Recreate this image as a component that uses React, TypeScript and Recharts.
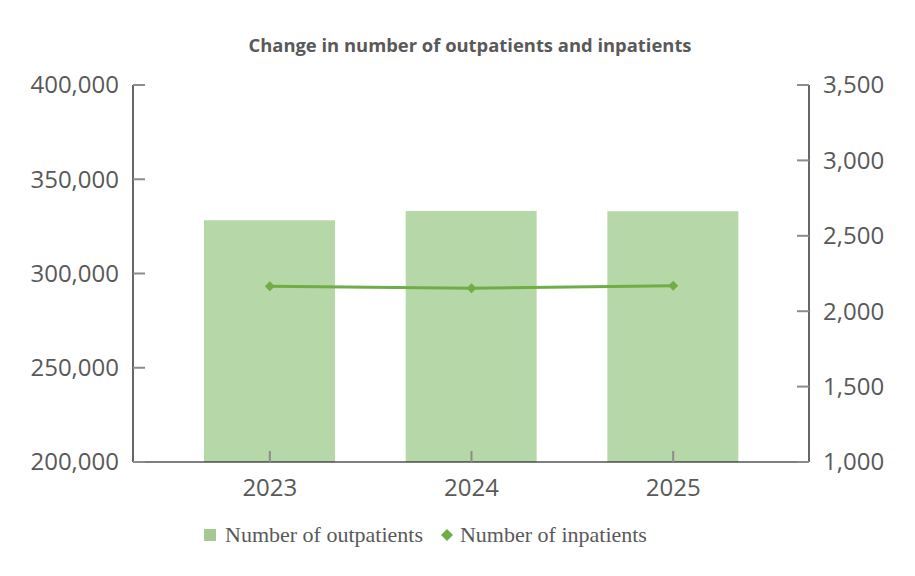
import React from 'react';
import { ComposedChart, Bar, Line, XAxis, YAxis, Legend } from 'recharts';

const years = ['2023', '2024', '2025'];
const outpatients = [328300, 333100, 333000];
const inpatients = [2165, 2152, 2169];
const leftTicks = [200000, 250000, 300000, 350000, 400000];
const rightTicks = [1000, 1500, 2000, 2500, 3000, 3500];

const title = 'Change in number of outpatients and inpatients';
const outName = 'Number of outpatients';
const inName = 'Number of inpatients';

const data = years.map((y, i) => ({ year: y, outpatients: outpatients[i], inpatients: inpatients[i] }));

const BAR = '#b6d7a8';
const LINE = '#70ad47';
const TEXT = '#595959';
const TICKC = '#8c8c8c';
const AXISFONT = '"Open Sans", "Noto Sans", sans-serif';

const fmt = (v: number) => v.toLocaleString('en-US');

const LeftTick = (props: any) => {
  const { x, y, payload } = props;
  return (
    <g>
      <line x1={x + 14} x2={x + 26} y1={y} y2={y} stroke={TICKC} strokeWidth={2} />
      <text x={x} y={y} dy="0.35em" textAnchor="end" fill={TEXT} fontSize={24} fontFamily={AXISFONT}>
        {fmt(payload.value)}
      </text>
    </g>
  );
};

const RightTick = (props: any) => {
  const { x, y, payload } = props;
  return (
    <g>
      <line x1={x - 26} x2={x - 14} y1={y} y2={y} stroke={TICKC} strokeWidth={2} />
      <text x={x} y={y} dy="0.35em" textAnchor="start" fill={TEXT} fontSize={24} fontFamily={AXISFONT}>
        {fmt(payload.value)}
      </text>
    </g>
  );
};

const BottomTick = (props: any) => {
  const { x, y, payload } = props;
  return (
    <g>
      <line x1={x} x2={x} y1={y - 17} y2={y - 28} stroke={TICKC} strokeWidth={2} />
      <text x={x} y={y} dy="0.71em" textAnchor="middle" fill={TEXT} fontSize={24} fontFamily={AXISFONT}>
        {payload.value}
      </text>
    </g>
  );
};

const Diamond = (props: any) => {
  const { cx, cy } = props;
  if (cx == null || cy == null) return null;
  const r = 5;
  return <polygon points={`${cx},${cy - r} ${cx + r},${cy} ${cx},${cy + r} ${cx - r},${cy}`} fill={LINE} />;
};

const LegendContent = () => (
  <div
    style={{
      display: 'flex',
      alignItems: 'center',
      height: 40,
      fontFamily: '"Liberation Serif", "DejaVu Serif", serif',
      fontSize: 22,
      color: TEXT,
      whiteSpace: 'nowrap',
    }}
  >
    <span style={{ display: 'inline-block', width: 12, height: 12, background: '#a6c994', marginRight: 9 }} />
    <span>{outName}</span>
    <svg width={12} height={12} style={{ marginLeft: 18, marginRight: 7 }}>
      <polygon points="6,0 12,6 6,12 0,6" fill={LINE} />
    </svg>
    <span>{inName}</span>
  </div>
);

export default function App() {
  return (
    <div style={{ position: 'absolute', left: 0, top: 0, width: 915, height: 576, background: '#fff' }}>
      <div
        style={{
          position: 'absolute',
          top: 32,
          left: 0,
          width: 940,
          textAlign: 'center',
          fontFamily: '"Open Sans", "Noto Sans", sans-serif',
          fontWeight: 700,
          fontSize: 18.4,
          color: TEXT,
          lineHeight: '26px',
        }}
      >
        {title}
      </div>
      <ComposedChart width={915} height={576} data={data} margin={{ top: 85, right: 0, left: 0, bottom: 21 }}>
        <XAxis
          dataKey="year"
          xAxisId={0}
          height={53}
          padding={{ left: 36, right: 35 }}
          axisLine={{ stroke: '#000', strokeWidth: 1.2 }}
          tickLine={false}
          tickSize={0}
          tickMargin={17}
          tick={<BottomTick />}
          interval={0}
        />
        <YAxis
          yAxisId="left"
          orientation="left"
          width={133}
          domain={[200000, 400000]}
          ticks={leftTicks}
          allowDataOverflow
          axisLine={{ stroke: '#000', strokeWidth: 1.2 }}
          tickLine={false}
          tickSize={0}
          tickMargin={14}
          tick={<LeftTick />}
          interval={0}
        />
        <YAxis
          yAxisId="right"
          orientation="right"
          width={106}
          domain={[1000, 3500]}
          ticks={rightTicks}
          allowDataOverflow
          axisLine={{ stroke: '#000', strokeWidth: 1.2 }}
          tickLine={false}
          tickSize={0}
          tickMargin={14}
          tick={<RightTick />}
          interval={0}
        />
        <Legend
          verticalAlign="bottom"
          height={40}
          content={<LegendContent />}
          wrapperStyle={{ left: 204, width: 500, height: 40 }}
        />
        <Bar
          dataKey="outpatients"
          name={outName}
          yAxisId="left"
          fill={BAR}
          barSize={131}
          isAnimationActive={false}
        />
        <Line
          dataKey="inpatients"
          name={inName}
          yAxisId="right"
          stroke={LINE}
          strokeWidth={3}
          dot={<Diamond />}
          activeDot={false}
          isAnimationActive={false}
        />
      </ComposedChart>
    </div>
  );
}
